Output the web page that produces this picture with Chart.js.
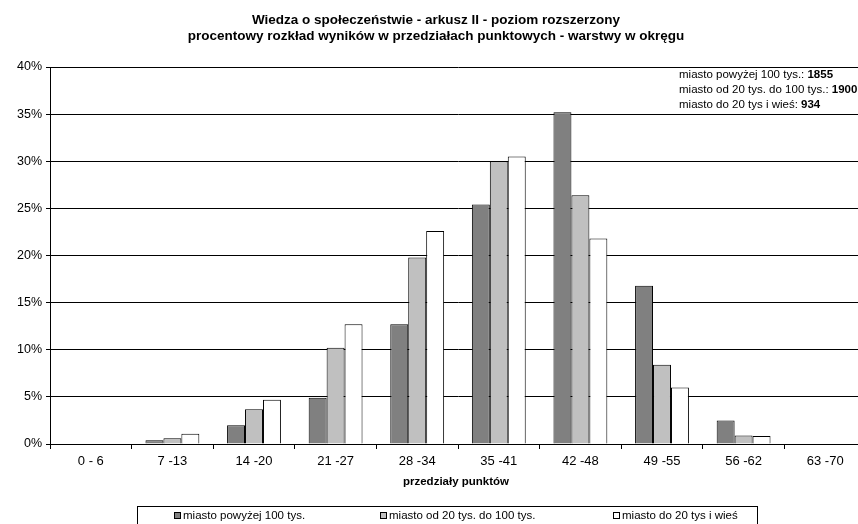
<!DOCTYPE html>
<html lang="pl">
<head>
    <meta charset="UTF-8">
    <title>Wiedza o społeczeństwie - arkusz II</title>
    <script src="https://cdn.jsdelivr.net/npm/chart.js"></script>
    <style>
        html, body { margin: 0; padding: 0; background: white; overflow: hidden; }
        #wrap { position: relative; width: 880px; height: 524px; }
    </style>
</head>
<body>
    <div id="wrap"><canvas id="chart" width="880" height="524"></canvas></div>

    <script>
        // przedziały punktów
        const categories = ["0 - 6", "7 -13", "14 -20", "21 -27", "28 -34", "35 -41", "42 -48", "49 -55", "56 -62", "63 -70"];
        const seriesNames = ["miasto powyżej 100 tys.", "miasto od 20 tys. do 100 tys.", "miasto do 20 tys i wieś"];
        const bigCity   = [0, 0.4, 2.0, 4.9, 12.7, 25.4, 35.2, 16.8, 2.5, 0];
        const midCity   = [0, 0.6, 3.7, 10.2, 19.8, 30.0, 26.4, 8.4, 0.9, 0];
        const village   = [0, 1.1, 4.7, 12.7, 22.6, 30.5, 21.8, 6.0, 0.85, 0];
        const counts    = ["1855", "1900", "934"];
        const yTicks    = [0, 5, 10, 15, 20, 25, 30, 35, 40];
        const colors    = ["#808080", "#c0c0c0", "#ffffff"];

        const FONT = "Arial, 'Liberation Sans', sans-serif";

        // tytuł, opis osi, liczebności i legenda rysowane ręcznie
        const extras = {
            id: 'extras',
            afterDraw(chart) {
                const ctx = chart.ctx;
                ctx.save();
                ctx.fillStyle = '#000';
                ctx.textBaseline = 'middle';

                ctx.font = 'bold 13.5px ' + FONT;
                ctx.textAlign = 'center';
                ctx.fillText("Wiedza o społeczeństwie - arkusz II - poziom rozszerzony", 436, 20);
                ctx.fillText("procentowy rozkład wyników w przedziałach punktowych - warstwy w okręgu", 436, 36);

                ctx.font = 'bold 11.5px ' + FONT;
                ctx.fillText("przedziały punktów", 456, 482);

                // liczebności warstw
                ctx.textAlign = 'left';
                const ly = [75, 90, 105];
                seriesNames.forEach((n, i) => {
                    ctx.font = '11.5px ' + FONT;
                    const t = n + ": ";
                    ctx.fillText(t, 679, ly[i]);
                    const w = ctx.measureText(t).width;
                    ctx.font = 'bold 11.5px ' + FONT;
                    ctx.fillText(counts[i], 679 + w, ly[i]);
                });

                // legenda
                ctx.strokeStyle = '#000';
                ctx.lineWidth = 1;
                ctx.strokeRect(137.5, 506.5, 620, 40);
                ctx.font = '11.5px ' + FONT;
                const lx = [174, 380, 613];
                chart.data.datasets.forEach((ds, i) => {
                    ctx.fillStyle = ds.backgroundColor;
                    ctx.fillRect(lx[i] + 0.5, 512.5, 6, 6);
                    ctx.strokeRect(lx[i] + 0.5, 512.5, 6, 6);
                    ctx.fillStyle = '#000';
                    ctx.fillText(ds.label, lx[i] + 9, 516);
                });
                ctx.restore();
            }
        };

        new Chart(document.getElementById("chart"), {
            type: 'bar',
            data: {
                labels: categories,
                datasets: [bigCity, midCity, village].map((d, i) => ({
                    label: seriesNames[i],
                    data: d,
                    backgroundColor: colors[i],
                    borderColor: '#000',
                    borderWidth: 1,
                    barPercentage: 1,
                    categoryPercentage: 0.66
                }))
            },
            options: {
                responsive: false,
                animation: false,
                layout: { padding: { top: 67, right: 14, bottom: 0, left: 0 } },
                plugins: {
                    legend: { display: false },
                    title: { display: false },
                    tooltip: { enabled: false }
                },
                scales: {
                    x: {
                        afterFit(s) { s.height = 80; },
                        grid: { drawOnChartArea: false, tickLength: 5, color: '#000', offset: true },
                        border: { color: '#000' },
                        ticks: { color: '#000', font: { family: FONT, size: 13 }, padding: 5, maxRotation: 0 }
                    },
                    y: {
                        min: 0,
                        max: 40,
                        afterFit(s) { s.width = 50; },
                        afterBuildTicks(s) { s.ticks = yTicks.map(v => ({ value: v })); },
                        grid: { color: '#000', tickLength: 4 },
                        border: { color: '#000' },
                        ticks: {
                            color: '#000',
                            font: { family: FONT, size: 12.5 },
                            padding: 4,
                            callback: v => v + '%'
                        }
                    }
                }
            },
            plugins: [extras]
        });
    </script>
</body>
</html>
